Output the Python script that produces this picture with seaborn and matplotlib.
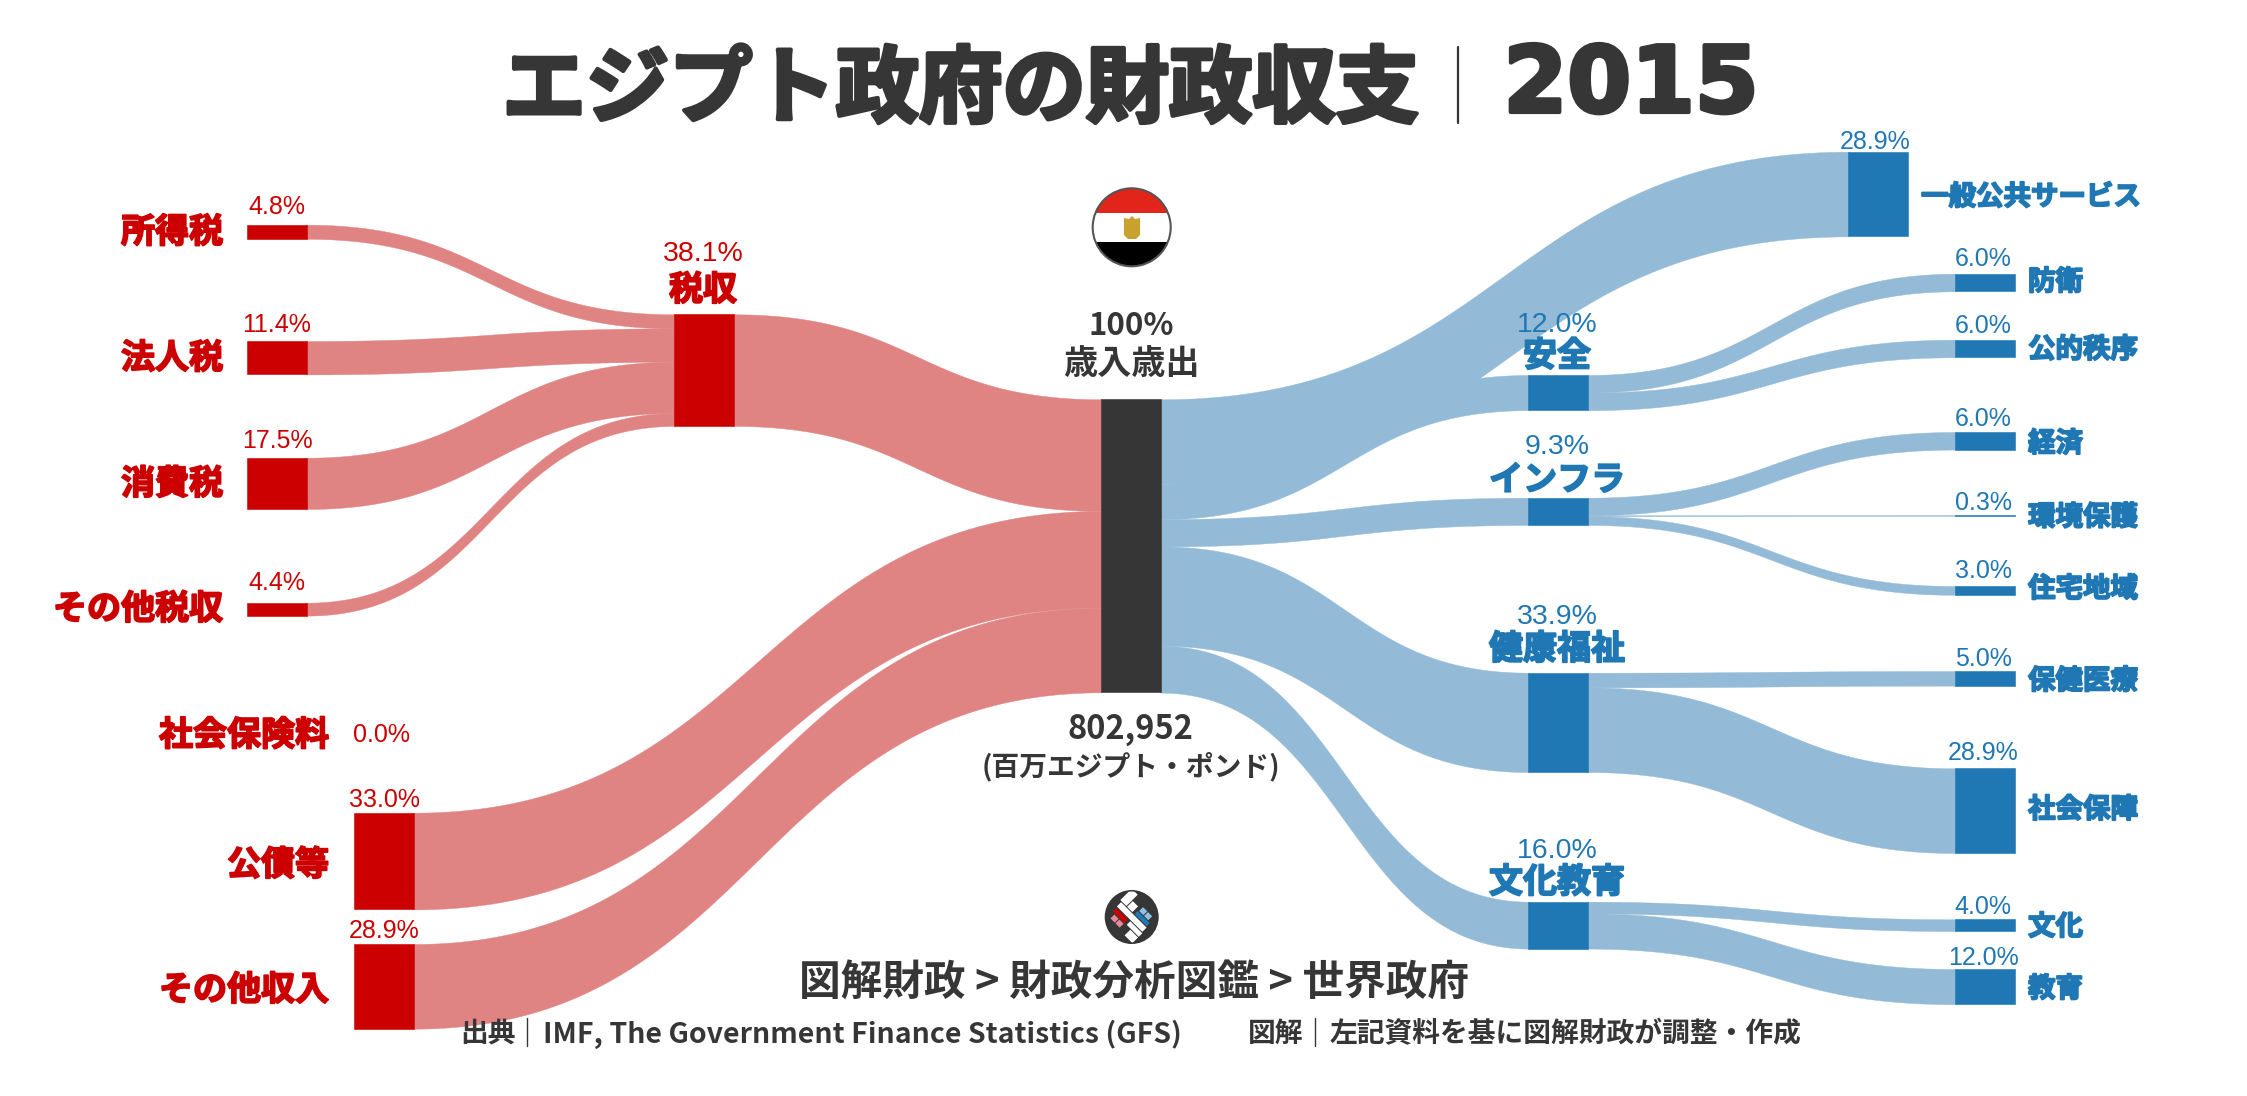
import numpy as np
import pandas as pd
import seaborn as sns
import matplotlib.pyplot as plt
import matplotlib.patheffects as pe
from matplotlib.patches import Circle, Polygon, Rectangle

# values, percent of total budget
tax_labels = ['所得税', '法人税', '消費税', 'その他税収']
tax_values = [4.8, 11.4, 17.5, 4.4]
rev_labels = ['税収', '公債等', 'その他収入']
rev_values = [38.1, 33.0, 28.9]
social_label = '社会保険料'
social_value = 0.0
total_value = 100
total_amount = '802,952'
total_unit = '(百万エジプト・ポンド)'

func_labels = ['一般公共サービス', '安全', 'インフラ', '健康福祉', '文化教育']
func_values = [28.9, 12.0, 9.3, 33.9, 16.0]
safety_labels = ['防衛', '公的秩序']
safety_values = [6.0, 6.0]
infra_labels = ['経済', '環境保護', '住宅地域']
infra_values = [6.0, 0.3, 3.0]
health_labels = ['保健医療', '社会保障']
health_values = [5.0, 28.9]
edu_labels = ['文化', '教育']
edu_values = [4.0, 12.0]

# layout, in pixels of the 2247x1096 canvas
SCALE = 2.93
BAR_W = 60
X_TAX, X_TAXSUM, X_REV, X_MID, X_FUNC, X_GEN, X_SUB = 277, 704, 384, 1131, 1558, 1878, 1985

y_tax = [224.7, 341, 457.7, 602.7]
y_taxsum = 314.3
y_rev = [812.7, 944]
y_mid = 399.3
y_func = [375, 497.7, 672.7, 901.7]
y_gen = 151.7
y_safety = [273.7, 339.7]
y_infra = [432, 515, 586]
y_health = [671, 768.3]
y_edu = [919.3, 969]

RED, RED_L = '#CC0000', '#E08383'
BLUE, BLUE_L = '#1F77B4', '#93BAD6'
DARK = '#363636'
JP = ['Noto Sans CJK JP', 'DejaVu Sans']

sns.set_theme(style='white')
plt.rcParams['font.family'] = JP

fig = plt.figure(figsize=(22.47, 10.96), dpi=100)
ax = fig.add_axes([0, 0, 1, 1])


def node(x, top, value, color):
    frame = pd.DataFrame({'x': [x], 'h': [value * SCALE]})
    sns.barplot(data=frame, x='x', y='h', native_scale=True, bottom=top, width=BAR_W,
                color=color, saturation=1, errorbar=None, linewidth=0.4, edgecolor=color,
                ax=ax, zorder=3)


def link(x0, y0, x1, y1, value, color):
    # runs 1px under the bars so no light seam shows
    t = np.linspace(0, 1, 200)
    xm = (x0 + x1) / 2
    xs = (1 - t)**3 * (x0 - 1) + 3 * (1 - t)**2 * t * xm + 3 * (1 - t) * t**2 * xm + t**3 * (x1 + 1)
    s = 3 * t**2 - 2 * t**3
    ys = y0 + (y1 - y0) * s
    ax.fill_between(xs, ys, ys + value * SCALE, color=color, linewidth=0.3, zorder=1)


def fan_in(xs, tops, values, x1, top1, color):
    y = top1
    for x0, y0, v in zip(xs, tops, values):
        link(x0 + BAR_W / 2, y0, x1 - BAR_W / 2, y, v, color)
        y += v * SCALE


def fan_out(x0, top0, xs, tops, values, color):
    y = top0
    for x1, y1, v in zip(xs, tops, values):
        link(x0 + BAR_W / 2, y, x1 - BAR_W / 2, y1, v, color)
        y += v * SCALE


def pct(x, y, v, color, size=18):
    ax.text(x, y + 2.5, f'{v:.1f}%', ha='center', va='center', color=color, fontsize=size,
            family='Liberation Sans', zorder=5)


def name(x, y, s, color, ha='center', size=24.5):
    ax.text(x, y + 3, s, ha=ha, va='center', color=color, fontsize=size, fontweight='bold',
            zorder=5, path_effects=[pe.withStroke(linewidth=1.3, foreground=color)])


# links, left side
fan_in([X_TAX] * 4, y_tax, tax_values, X_TAXSUM, y_taxsum, RED_L)
fan_in([X_TAXSUM, X_REV, X_REV], [y_taxsum] + y_rev, rev_values, X_MID, y_mid, RED_L)

# links, right side
fan_out(X_MID, y_mid, [X_GEN] + [X_FUNC] * 4, [y_gen] + y_func, func_values, BLUE_L)
fan_out(X_FUNC, y_func[0], [X_SUB] * 2, y_safety, safety_values, BLUE_L)
fan_out(X_FUNC, y_func[1], [X_SUB] * 3, y_infra, infra_values, BLUE_L)
fan_out(X_FUNC, y_func[2], [X_SUB] * 2, y_health, health_values, BLUE_L)
fan_out(X_FUNC, y_func[3], [X_SUB] * 2, y_edu, edu_values, BLUE_L)

# nodes
for top, v in zip(y_tax, tax_values):
    node(X_TAX, top, v, RED)
node(X_TAXSUM, y_taxsum, rev_values[0], RED)
for top, v in zip(y_rev, rev_values[1:]):
    node(X_REV, top, v, RED)
node(X_MID, y_mid, total_value, DARK)
node(X_GEN, y_gen, func_values[0], BLUE)
for top, v in zip(y_func, func_values[1:]):
    node(X_FUNC, top, v, BLUE)
for tops, vals in [(y_safety, safety_values), (y_infra, infra_values),
                   (y_health, health_values), (y_edu, edu_values)]:
    for top, v in zip(tops, vals):
        node(X_SUB, top, v, BLUE)

ax.set_xlim(0, 2247)
ax.set_ylim(1096, 0)
ax.set_axis_off()
sns.despine(ax=ax, left=True, bottom=True)

# left labels
for s, v, ly, py in zip(tax_labels, tax_values, [229, 355, 480.7, 605.7], [204, 322.7, 439, 581]):
    name(223, ly, s, RED, ha='right')
    pct(X_TAX, py, v, RED)
name(X_TAXSUM - 1, 286.7, rev_labels[0], RED)
pct(X_TAXSUM - 1, 251.7, rev_values[0], RED, 20.5)
name(329, 732, social_label, RED, ha='right')
pct(382, 732, social_value, RED)
for s, v, ly, py in zip(rev_labels[1:], rev_values[1:], [861.7, 986.7], [797.7, 928.7]):
    name(329, ly, s, RED, ha='right')
    pct(X_REV, py, v, RED)

# right labels
pct(X_GEN - 3, 139.3, func_values[0], BLUE)
name(1921, 194, func_labels[0], BLUE, ha='left', size=19.8)
for s, v, ly, py in zip(func_labels[1:], func_values[1:], [352.7, 476.7, 645.7, 879],
                        [322, 445, 614, 848]):
    name(X_FUNC - 1, ly, s, BLUE)
    pct(X_FUNC - 1, py, v, BLUE, 20.5)
sub_labels = safety_labels + infra_labels + health_labels + edu_labels
sub_values = safety_values + infra_values + health_values + edu_values
sub_ly = [279, 346.7, 440.7, 514.3, 586, 678, 806.7, 924, 986]
sub_py = [256, 323.7, 416.7, 500, 568, 657, 751, 904.3, 955.3]
for s, v, ly, py in zip(sub_labels, sub_values, sub_ly, sub_py):
    name(2028, ly, s, BLUE, ha='left', size=19.8)
    pct(X_SUB - 2, py, v, BLUE)

# centre texts
ax.text(X_MID, 326, f'{total_value}%', ha='center', va='center', color=DARK, fontsize=22.5, fontweight='bold')
ax.text(X_MID, 363.5, '歳入歳出', ha='center', va='center', color=DARK, fontsize=24.6, fontweight='bold')
ax.text(X_MID - 1, 729, total_amount, ha='center', va='center', color=DARK, fontsize=23.5, fontweight='bold')
ax.text(X_MID, 767, total_unit, ha='center', va='center', color=DARK, fontsize=20, fontweight='bold')

# title
thick = [pe.withStroke(linewidth=3, foreground=DARK)]
ax.text(961, 91, 'エジプト政府の財政収支', ha='center', va='center', color=DARK, fontsize=60,
        fontweight='bold', path_effects=thick)
ax.plot([1458, 1458], [47, 123], color=DARK, lw=1.6)
ax.text(1631, 86, '2015', ha='center', va='center', color=DARK, fontsize=66, fontweight='bold',
        family='DejaVu Sans', path_effects=thick)

# flag
FX, FY, FR = 1131.7, 227.3, 39
clip = Circle((FX, FY), FR, transform=ax.transData)
for y0, y1, c in [(FY - FR, 213.3, '#E1251B'), (213.3, 241.7, 'white'), (241.7, FY + FR, 'black')]:
    ax.add_patch(Rectangle((FX - FR, y0), 2 * FR, y1 - y0, color=c, lw=0, clip_path=clip, zorder=4))
ax.add_patch(Polygon([(1124, 218), (1129, 219), (1132, 216), (1135, 219), (1140, 218), (1140, 235),
                      (1136, 239), (1128, 239), (1124, 235)], color='#C9A12F', lw=0, zorder=5))
ax.add_patch(Circle((FX, FY), FR, fill=False, ec='#555555', lw=1.5, zorder=5))

# logo
LX, LY = 1131.7, 917
ax.add_patch(Circle((LX, LY), 27, color=DARK, lw=0, zorder=4))
logo_clip = Circle((LX, LY), 25.5, transform=ax.transData)


def logo_rect(u0, u1, v0, v1, c):
    r = np.sqrt(0.5)
    pts = [(LX + r * (u + v), LY + r * (u - v)) for u, v in [(u0, v0), (u1, v0), (u1, v1), (u0, v1)]]
    ax.add_patch(Polygon(pts, color=c, lw=0, zorder=5, clip_path=logo_clip))


logo_rect(-18, 18, -3, 3, 'white')
logo_rect(-17, -1, -9.5, -4.5, RED)
logo_rect(0, 17, 4, 8.5, BLUE)
logo_rect(-14, -8, -16, -10.5, '#E58A97')
logo_rect(-7, -1, -16, -10.5, '#E58A97')
logo_rect(1, 7, 9.5, 15, '#8FC1E3')
logo_rect(8, 14, 9.5, 15, '#8FC1E3')
logo_rect(-20, -11.5, 4, 20, 'white')
logo_rect(-10.5, -3, 4, 12, 'white')
logo_rect(2, 19, -9, -4, 'white')
logo_rect(8, 19, -18, -10, 'white')

# footer
ax.text(1134, 983, '図解財政 > 財政分析図鑑 > 世界政府', ha='center', va='center', color=DARK,
        fontsize=30, fontweight='bold')
ax.text(460, 1034, '出典', ha='left', va='center', color=DARK, fontsize=20, fontweight='bold')
ax.plot([527, 527], [1018, 1046], color=DARK, lw=1)
ax.text(543, 1034, 'IMF, The Government Finance Statistics (GFS)', ha='left', va='center', color=DARK,
        fontsize=20.5, fontweight='bold')
ax.text(1248, 1034, '図解', ha='left', va='center', color=DARK, fontsize=20, fontweight='bold')
ax.plot([1315, 1315], [1018, 1046], color=DARK, lw=1)
ax.text(1330, 1034, '左記資料を基に図解財政が調整・作成', ha='left', va='center', color=DARK,
        fontsize=20, fontweight='bold')

fig.savefig('out.png', dpi=100, facecolor='white')
